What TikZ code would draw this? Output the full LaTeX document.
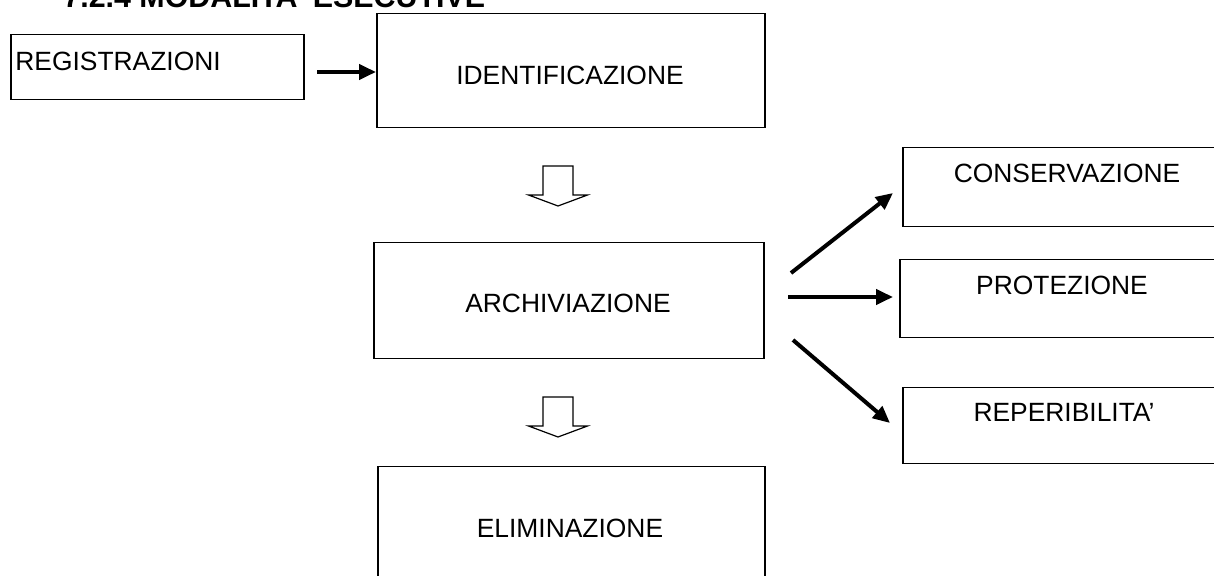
\documentclass[tikz,border=0pt]{standalone}
\usepackage{fontspec}
\setmainfont{Liberation Sans}
\usetikzlibrary{arrows.meta}

% freccia vuota verso il basso
\newcommand{\blockarrow}[1]{%
  \draw[line width=.6pt] (#1) ++(-15,0) -- ++(0,29) -- ++(-14.5,0) -- ++(29.5,11)
    -- ++(29.5,-11) -- ++(-14.5,0) -- ++(0,-29) -- cycle;}

\tikzset{
  box/.style={draw,line width=.75pt,anchor=north west,inner sep=0pt},
  txt/.style={inner sep=0pt,anchor=base,font=\fontsize{13.2}{15}\selectfont},
  fat/.style={line width=2pt,-{Triangle[length=8.5pt,width=7.5pt]}}
}

\begin{document}
\begin{tikzpicture}[x=0.5pt,y=-0.5pt]
  \path[use as bounding box,clip] (0,0) rectangle (1214,576);

  % titolo
  \node[inner sep=0pt,anchor=base west,font=\fontsize{15.2}{18}\selectfont\bfseries]
    (title) at (63,8) {7.2.4 MODALITA’ ESECUTIVE};

  % riquadri
  \node[box,minimum width=146.5pt,minimum height=32.5pt] (reg) at (10,34) {};
  \node[box,minimum width=194pt,minimum height=57pt] (ident) at (376,13) {};
  \node[box,minimum width=195pt,minimum height=58pt] (arch) at (373,242) {};
  \node[box,minimum width=193.5pt,minimum height=70pt] (elim) at (377,466) {};
  \node[box,minimum width=165pt,minimum height=39.5pt] (cons) at (902,147) {};
  \node[box,minimum width=165.5pt,minimum height=39pt] (prot) at (899,259) {};
  \node[box,minimum width=164pt,minimum height=38pt] (rep) at (902,387) {};

  % testi
  \node[txt,anchor=base west] (regT) at (15,71) {REGISTRAZIONI};
  \node[txt] (identT) at (570,85) {IDENTIFICAZIONE};
  \node[txt] (archT) at (568,313) {ARCHIVIAZIONE};
  \node[txt] (elimT) at (570,537) {ELIMINAZIONE};
  \node[txt] (consT) at (1067,183) {CONSERVAZIONE};
  \node[txt] (protT) at (1062,295) {PROTEZIONE};
  \node[txt] (repT) at (1064,422) {REPERIBILITA’};

  % frecce
  \coordinate (r0) at (317,72);
  \draw[fat] (r0) -- (r0 -| ident.west);

  \coordinate (c0) at (791,273);
  \coordinate (c1) at (893,193);
  \coordinate (p0) at (788,297);
  \coordinate (p1) at (893,297);
  \coordinate (d0) at (793,340);
  \coordinate (d1) at (890,423);
  \draw[fat] (c0) -- (c1);
  \draw[fat] (p0) -- (p1);
  \draw[fat] (d0) -- (d1);

  % frecce vuote
  \coordinate (h1) at (558,166);
  \coordinate (h2) at (558,397);
  \blockarrow{h1}
  \blockarrow{h2}
\end{tikzpicture}
\end{document}
